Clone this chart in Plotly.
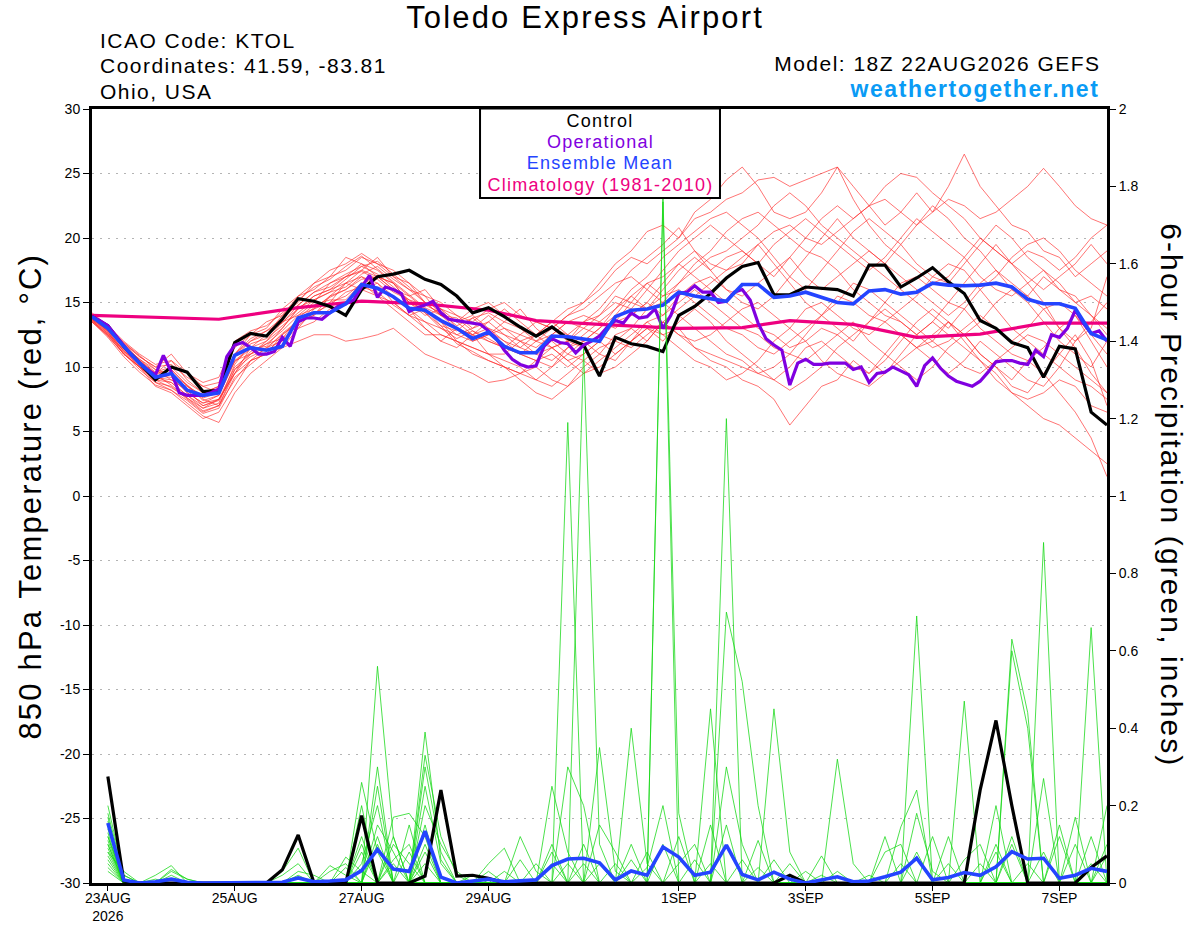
import pandas as pd
import plotly.graph_objects as go

# ---------------- time axes ----------------
times_6h = pd.date_range("2026-08-22 18:00", periods=65, freq="6h")
times_3h = pd.date_range("2026-08-22 18:00", periods=129, freq="3h")
precip_times = times_6h[1:]

tick_dates = ["2026-08-23", "2026-08-25", "2026-08-27", "2026-08-29",
              "2026-09-01", "2026-09-03", "2026-09-05", "2026-09-07"]
tick_labels = ["23AUG<br>2026", "25AUG", "27AUG", "29AUG", "1SEP", "3SEP", "5SEP", "7SEP"]

temp_ticks = [-30, -25, -20, -15, -10, -5, 0, 5, 10, 15, 20, 25, 30]
temp_tick_labels = ["-30", "-25", "-20", "-15", "-10", "-5", "0", "5", "10", "15", "20", "25", "30"]
precip_ticks = [0, 0.2, 0.4, 0.6, 0.8, 1.0, 1.2, 1.4, 1.6, 1.8, 2.0]
precip_tick_labels = ["0", "0.2", "0.4", "0.6", "0.8", "1", "1.2", "1.4", "1.6", "1.8", "2"]

legend_labels = ["Control", "Operational", "Ensemble Mean", "Climatology (1981-2010)"]

# ---------------- 850 hPa temperature (deg C) ----------------
control_temp = [
    13.9, 13.2, 11.6, 10.3, 9.0, 10.0, 9.6, 8.1, 8.2, 11.9, 12.6, 12.4, 13.7,
    15.3, 15.1, 14.7, 14.0, 16.0, 17.0, 17.2, 17.5, 16.8, 16.4, 15.5, 14.2, 14.6,
    13.9, 13.1, 12.4, 13.1, 12.2, 11.7, 9.3, 12.3, 11.8, 11.6, 11.2, 14.0, 14.7,
    15.7, 16.9, 17.8, 18.1, 15.6, 15.6, 16.2, 16.1, 16.0, 15.5, 17.9, 17.9, 16.2,
    16.9, 17.7, 16.6, 15.7, 13.6, 13.0, 11.9, 11.5, 9.2, 11.6, 11.4, 6.5, 5.5]

mean_temp = [
    13.9, 13.0, 11.6, 10.3, 9.2, 9.5, 8.2, 7.8, 8.0, 10.9, 11.5, 11.3, 11.6,
    13.8, 14.2, 14.2, 14.9, 16.4, 16.1, 15.45, 14.55, 14.4, 13.6, 13.0, 12.2, 12.7,
    11.6, 11.1, 11.1, 12.4, 12.35, 12.15, 12.0, 13.9, 14.4, 14.5, 14.8, 15.8, 15.5,
    15.3, 15.1, 16.4, 16.4, 15.4, 15.5, 15.8, 15.4, 15.0, 14.9, 15.9, 16.0, 15.65,
    15.8, 16.5, 16.35, 16.3, 16.35, 16.5, 16.2, 15.25, 14.9, 14.9, 14.55, 12.6, 12.1]

operational_temp = [
    13.9, 13.6, 13.2, 12.4, 11.6, 10.9, 10.3, 9.8, 9.4, 10.9, 9.6, 8.0, 7.8, 7.8, 7.8, 8.0,
    8.3, 10.8, 11.7, 11.9, 11.5, 11.0, 11.0, 11.2, 12.3, 11.6, 13.5, 13.8, 13.8, 13.7, 14.2, 14.7,
    14.9, 15.2, 16.2, 17.1, 15.4, 16.2, 16.0, 15.7, 14.3, 14.6, 14.8, 15.1, 14.2, 13.7, 13.6, 13.5,
    13.4, 13.3, 12.8, 12.2, 11.3, 10.6, 10.2, 10.0, 10.1, 11.6, 12.2, 11.9, 11.8, 11.1, 11.7, 12.0,
    12.4, 13.1, 13.6, 13.4, 14.2, 13.8, 13.9, 14.5, 13.0, 14.0, 15.7, 15.8, 16.3, 15.8, 15.8, 15.0,
    15.1, 15.8, 16.0, 15.2, 13.4, 12.2, 11.7, 11.3, 8.6, 10.3, 10.6, 10.2, 10.2, 10.3, 10.3, 10.3,
    9.8, 10.0, 8.8, 9.5, 9.6, 10.0, 9.7, 9.4, 8.5, 10.1, 10.7, 9.9, 9.3, 8.9, 8.7, 8.5,
    8.9, 9.6, 10.4, 10.5, 10.5, 10.3, 10.2, 11.3, 10.8, 12.5, 12.3, 13.0, 14.4, 13.4, 12.6, 12.8,
    12.0]

climatology_times = ["2026-08-22 18:00", "2026-08-24 18:00", "2026-08-26 00:00", "2026-08-27 00:00",
                     "2026-08-28 00:00", "2026-08-29 00:00", "2026-08-29 18:00", "2026-08-30 18:00",
                     "2026-09-01 00:00", "2026-09-02 00:00", "2026-09-02 18:00", "2026-09-03 18:00",
                     "2026-09-04 18:00", "2026-09-05 18:00", "2026-09-06 18:00", "2026-09-07 18:00"]
climatology_temp = [14.0, 13.7, 14.6, 15.1, 14.9, 14.4, 13.6, 13.3,
                    13.0, 13.05, 13.6, 13.3, 12.3, 12.55, 13.4, 13.4]

member_temps = [
    [13.8, 12.8, 11.5, 10.5, 9.5, 9.8, 8.5, 7.5, 7.0, 9.5, 11.5, 12.0, 13.0,
     14.5, 15.5, 16.0, 16.5, 17.5, 18.5, 17.0, 16.0, 15.5, 14.0, 13.5, 14.5, 15.0,
     14.0, 13.0, 12.5, 13.5, 14.5, 15.0, 16.5, 18.0, 19.0, 20.5, 21.0, 20.0, 22.0,
     23.0, 24.5, 25.5, 24.0, 22.0, 21.5, 22.0, 23.5, 25.5, 24.0, 22.5, 21.0, 22.0,
     23.5, 22.0, 24.0, 26.5, 24.0, 22.5, 21.0, 20.5, 19.0, 18.5, 17.0, 18.0, 19.0],
    [13.5, 12.5, 11.0, 10.0, 8.5, 8.0, 7.0, 6.0, 6.5, 8.5, 10.5, 11.0, 12.5,
     13.5, 14.0, 15.0, 16.5, 16.0, 15.5, 15.0, 14.0, 13.0, 12.0, 11.5, 12.5, 11.0,
     10.0, 9.0, 8.0, 7.5, 8.5, 10.0, 11.0, 10.5, 12.0, 13.5, 12.5, 13.0, 11.5,
     10.5, 10.0, 9.0, 8.5, 7.5, 5.5, 7.0, 8.5, 9.0, 10.5, 9.5, 11.0, 12.5,
     11.5, 12.0, 13.5, 12.5, 11.0, 10.0, 9.0, 10.5, 9.5, 8.0, 6.5, 4.5, 1.5],
    [14.0, 13.0, 11.8, 10.5, 9.5, 10.5, 9.0, 8.0, 8.5, 11.0, 12.0, 12.5, 14.0,
     15.5, 16.5, 17.5, 18.0, 18.8, 18.0, 17.0, 16.5, 15.5, 15.0, 14.0, 13.0, 13.5,
     12.5, 12.0, 11.0, 11.5, 12.0, 13.5, 14.5, 16.0, 17.5, 18.5, 19.5, 20.8, 19.0,
     17.5, 16.0, 15.0, 14.5, 15.5, 17.0, 18.5, 20.0, 21.5, 20.0, 19.0, 18.0, 19.5,
     21.0, 22.5, 21.5, 20.0, 19.0, 17.5, 16.0, 15.5, 17.0, 16.0, 15.0, 15.5, 14.5],
    [13.6, 12.6, 11.2, 10.0, 8.8, 8.5, 7.5, 6.5, 7.0, 9.0, 10.5, 11.5, 12.0,
     13.0, 14.5, 15.0, 15.5, 16.5, 17.0, 16.0, 15.0, 14.5, 13.5, 12.0, 11.0, 10.5,
     10.0, 9.5, 9.0, 10.0, 11.5, 12.0, 11.0, 12.5, 13.0, 12.0, 13.5, 14.5, 15.5,
     16.5, 17.5, 18.0, 19.5, 18.0, 16.5, 15.0, 14.0, 13.0, 12.0, 13.5, 15.0, 16.5,
     17.0, 16.0, 15.0, 14.5, 13.0, 12.0, 11.0, 10.5, 11.5, 13.0, 14.0, 12.0, 10.0],
    [13.9, 13.0, 11.5, 10.2, 9.2, 9.0, 8.2, 7.0, 7.5, 10.0, 11.0, 12.0, 13.5,
     14.0, 15.0, 16.5, 17.0, 17.5, 17.0, 16.5, 15.5, 16.0, 14.5, 13.5, 12.5, 12.0,
     11.5, 11.0, 12.0, 13.0, 12.5, 13.5, 14.0, 15.0, 14.5, 16.0, 15.0, 16.5, 18.0,
     19.0, 20.5, 21.5, 22.0, 21.0, 20.0, 19.0, 18.5, 17.5, 16.0, 15.0, 14.0, 13.5,
     12.5, 13.5, 15.0, 16.5, 18.0, 19.5, 18.0, 16.5, 15.0, 13.0, 11.5, 9.5, 8.0],
    [13.7, 12.7, 11.0, 10.0, 9.0, 8.8, 7.8, 6.8, 7.5, 9.5, 10.5, 11.0, 11.5,
     12.0, 12.5, 12.5, 12.0, 12.2, 12.5, 13.0, 12.0, 11.0, 10.5, 10.0, 9.5, 8.8,
     9.0, 9.5, 10.0, 9.0, 8.5, 9.5, 10.5, 11.5, 12.5, 13.5, 14.0, 15.0, 16.0,
     15.0, 14.0, 13.0, 12.5, 11.5, 11.0, 10.5, 11.5, 12.5, 13.5, 12.0, 11.0, 10.0,
     9.0, 10.0, 11.5, 12.5, 11.0, 10.0, 8.5, 8.0, 9.5, 11.0, 12.5, 10.5, 7.0],
    [13.8, 12.9, 11.6, 10.6, 9.8, 9.0, 8.5, 7.8, 8.0, 10.5, 11.5, 12.5, 13.5,
     14.5, 15.5, 16.0, 17.0, 18.0, 17.5, 16.5, 15.0, 14.0, 14.5, 13.0, 12.0, 12.5,
     13.5, 14.5, 13.0, 12.0, 11.0, 12.0, 13.0, 14.5, 16.0, 17.0, 18.5, 19.5, 20.5,
     21.5, 22.0, 21.0, 20.0, 18.5, 17.0, 16.0, 17.5, 19.0, 20.5, 21.5, 20.5, 19.5,
     18.0, 17.0, 16.5, 18.0, 19.5, 21.0, 20.0, 18.5, 17.5, 16.0, 15.5, 14.0, 12.5],
    [13.5, 12.3, 10.8, 9.6, 8.6, 8.2, 7.2, 6.2, 5.7, 8.0, 9.5, 10.5, 11.5,
     13.0, 13.5, 14.5, 15.0, 16.0, 16.5, 15.5, 14.5, 13.5, 12.5, 12.0, 11.5, 11.0,
     11.0, 12.0, 12.5, 11.5, 10.5, 9.5, 10.0, 11.0, 12.0, 13.0, 12.5, 11.5, 10.5,
     10.0, 9.0, 9.5, 10.5, 12.0, 13.0, 14.5, 15.0, 14.0, 13.0, 12.5, 13.5, 14.5,
     15.5, 17.0, 18.0, 17.5, 16.0, 14.5, 13.0, 12.0, 11.0, 10.0, 9.0, 8.5, 7.5],
    [14.1, 13.1, 11.9, 10.8, 10.0, 10.2, 9.2, 8.5, 8.8, 11.5, 12.5, 13.0, 14.5,
     15.5, 16.0, 17.0, 18.5, 18.0, 17.0, 16.0, 15.5, 14.5, 13.5, 12.5, 13.0, 14.0,
     13.0, 12.0, 11.5, 12.5, 13.5, 14.0, 13.5, 14.5, 15.5, 16.5, 17.0, 18.0, 19.0,
     18.0, 17.5, 18.5, 19.5, 20.5, 21.0, 20.0, 19.5, 20.5, 21.5, 22.5, 23.0, 22.0,
     21.0, 22.0, 23.0, 22.5, 21.5, 22.0, 23.0, 24.0, 25.4, 24.0, 22.5, 21.5, 21.0],
    [13.6, 12.5, 11.3, 10.0, 9.0, 9.5, 8.0, 7.2, 7.8, 10.5, 11.0, 11.5, 12.5,
     13.5, 14.0, 15.5, 16.0, 17.0, 16.0, 15.5, 14.5, 13.0, 12.0, 13.0, 12.5, 13.0,
     12.0, 11.5, 11.0, 10.5, 11.5, 12.5, 13.5, 13.0, 14.0, 15.0, 16.5, 18.0, 17.0,
     16.0, 15.0, 14.0, 13.0, 12.5, 11.5, 12.0, 13.0, 12.5, 11.5, 10.5, 9.5, 10.5,
     11.5, 12.5, 13.5, 12.0, 10.5, 9.0, 8.0, 7.5, 8.0, 9.0, 8.5, 7.0, 6.5],
    [13.9, 12.9, 11.7, 10.6, 9.6, 10.0, 8.8, 8.0, 8.5, 11.0, 12.5, 13.5, 14.0,
     15.0, 16.5, 17.0, 17.5, 18.5, 18.0, 17.5, 16.5, 15.0, 14.5, 14.0, 13.5, 14.5,
     15.0, 14.0, 13.5, 13.0, 14.0, 15.0, 16.0, 17.5, 18.5, 18.0, 19.0, 20.0, 21.5,
     22.0, 23.0, 23.5, 24.5, 24.7, 24.0, 24.5, 25.0, 25.5, 23.0, 21.0, 19.5, 18.5,
     17.5, 16.5, 17.0, 18.5, 20.0, 19.0, 18.0, 19.0, 18.5, 17.5, 18.5, 20.0, 21.0],
    [13.7, 12.6, 11.4, 10.3, 9.3, 9.2, 8.0, 7.2, 7.5, 9.5, 11.0, 11.8, 12.8,
     14.0, 14.5, 15.5, 16.5, 17.0, 16.5, 15.0, 14.0, 13.5, 13.0, 12.5, 12.0, 12.5,
     13.0, 12.5, 12.0, 12.5, 13.5, 13.0, 12.5, 12.0, 13.0, 14.5, 15.0, 14.0, 13.0,
     12.0, 11.0, 10.5, 9.5, 9.0, 10.0, 11.5, 12.0, 11.0, 10.0, 9.5, 10.5, 12.0,
     13.5, 14.5, 13.5, 12.5, 13.5, 15.0, 16.0, 15.0, 13.5, 12.0, 11.0, 10.0, 12.0],
    [13.8, 12.8, 11.2, 10.4, 9.4, 8.6, 7.6, 6.8, 7.2, 10.2, 11.8, 12.2, 13.2,
     14.2, 15.2, 15.8, 16.8, 17.8, 17.2, 16.2, 15.2, 14.2, 13.2, 12.8, 13.8, 12.8,
     12.0, 11.0, 10.5, 11.5, 10.5, 11.0, 12.0, 13.5, 15.0, 16.5, 15.5, 16.5, 17.5,
     18.5, 19.0, 20.0, 21.0, 22.5, 23.5, 22.5, 21.0, 20.0, 19.0, 18.0, 17.0, 16.0,
     15.0, 14.0, 13.0, 14.5, 16.0, 17.0, 18.5, 19.5, 20.0, 19.0, 17.5, 16.5, 15.5],
    [13.9, 12.7, 11.3, 10.2, 9.0, 8.4, 7.6, 6.6, 7.0, 9.8, 11.2, 11.8, 12.2,
     13.2, 14.2, 14.8, 15.8, 16.2, 15.8, 14.8, 14.0, 14.5, 13.2, 11.8, 11.2, 10.5,
     10.0, 9.5, 10.5, 11.0, 10.0, 11.0, 12.0, 11.0, 12.0, 13.0, 12.0, 13.5, 14.5,
     13.5, 12.0, 11.0, 10.0, 9.0, 8.2, 9.0, 10.0, 11.5, 12.5, 13.5, 14.5, 13.5,
     12.5, 11.5, 12.0, 13.0, 14.0, 13.0, 12.0, 13.0, 14.5, 15.0, 14.0, 12.5, 11.0],
    [14.2, 13.2, 12.0, 11.0, 10.2, 10.5, 9.5, 8.8, 9.2, 12.0, 12.8, 13.2, 14.2,
     15.2, 16.2, 16.8, 17.8, 18.6, 17.6, 16.6, 15.6, 14.6, 14.0, 13.0, 12.5, 13.5,
     14.5, 13.5, 12.5, 13.0, 14.0, 14.5, 15.5, 16.5, 17.0, 16.0, 17.5, 19.0, 20.0,
     21.0, 20.0, 19.0, 18.0, 17.0, 18.5, 20.0, 21.5, 22.5, 21.5, 22.5, 24.0, 25.0,
     24.7, 23.5, 22.5, 21.5, 20.0, 19.0, 18.0, 17.0, 16.0, 17.0, 18.0, 19.5, 18.0],
    [13.6, 12.4, 11.1, 9.8, 8.8, 8.2, 7.4, 6.4, 6.8, 9.2, 10.2, 11.2, 12.2,
     13.8, 14.8, 15.2, 15.2, 16.5, 15.5, 14.5, 13.5, 12.5, 12.5, 12.0, 11.5, 11.0,
     10.5, 10.0, 9.0, 8.5, 9.5, 10.5, 11.5, 12.0, 11.5, 12.5, 13.5, 12.5, 11.5,
     11.0, 10.5, 10.0, 9.5, 10.0, 11.0, 12.5, 14.0, 15.5, 15.0, 14.0, 13.5, 12.5,
     11.5, 10.5, 9.5, 10.5, 12.0, 11.0, 10.0, 9.0, 8.5, 10.0, 12.0, 13.5, 15.0],
    [13.8, 13.0, 11.8, 10.8, 10.0, 11.0, 9.5, 8.5, 8.0, 10.8, 12.0, 12.8, 13.8,
     14.8, 15.8, 16.5, 17.2, 17.8, 18.2, 17.2, 16.2, 15.0, 14.0, 13.5, 14.0, 13.0,
     12.5, 11.5, 12.5, 13.5, 12.5, 12.0, 13.0, 14.0, 15.5, 14.5, 16.0, 17.5, 18.5,
     17.5, 18.5, 19.0, 18.0, 19.5, 20.5, 21.5, 20.5, 19.5, 18.5, 17.5, 18.5, 20.0,
     21.5, 20.5, 19.5, 18.5, 17.0, 16.0, 15.5, 16.5, 17.5, 16.5, 15.0, 14.0, 13.0],
    [13.7, 12.8, 11.5, 10.4, 9.4, 9.8, 8.6, 7.4, 7.8, 10.4, 11.4, 11.6, 13.0,
     14.6, 15.2, 15.8, 16.2, 17.2, 17.8, 16.8, 16.0, 15.0, 14.0, 13.8, 12.8, 12.2,
     11.5, 11.0, 10.5, 10.0, 11.0, 10.5, 9.5, 10.0, 11.0, 12.0, 13.5, 12.5, 12.0,
     12.5, 13.5, 14.5, 15.0, 14.0, 13.0, 12.0, 10.5, 9.5, 9.0, 8.5, 9.5, 11.0,
     12.5, 13.5, 12.5, 11.5, 10.5, 9.5, 8.0, 7.0, 6.0, 5.5, 4.5, 3.5, 2.5],
    [13.5, 12.4, 11.0, 10.0, 9.2, 8.8, 7.8, 7.0, 7.4, 9.8, 10.8, 11.4, 12.6,
     13.6, 14.6, 15.4, 16.0, 16.8, 17.0, 16.5, 15.0, 14.2, 13.0, 12.2, 12.8, 12.0,
     11.5, 12.5, 13.5, 13.0, 12.0, 11.5, 12.5, 13.5, 14.0, 15.0, 14.0, 15.5, 16.5,
     17.0, 16.0, 15.5, 16.5, 17.5, 18.5, 17.0, 16.0, 17.0, 18.0, 19.0, 18.0, 17.0,
     16.0, 15.0, 14.0, 15.0, 16.5, 17.5, 16.5, 15.5, 14.5, 13.0, 12.0, 13.0, 17.0],
    [14.0, 13.1, 11.9, 10.9, 9.8, 9.4, 8.6, 7.6, 8.0, 11.0, 12.2, 12.8, 13.4,
     14.8, 15.8, 16.2, 17.0, 17.4, 16.8, 15.8, 15.2, 14.8, 14.2, 13.2, 13.8, 14.2,
     13.5, 13.0, 12.0, 11.5, 12.0, 13.0, 14.0, 15.5, 15.0, 14.5, 15.5, 16.0, 15.0,
     14.0, 13.0, 12.5, 11.5, 11.0, 12.0, 13.0, 14.0, 15.0, 16.5, 16.0, 15.0, 14.0,
     13.0, 12.0, 11.0, 10.0, 9.5, 10.5, 11.5, 12.5, 12.0, 11.0, 10.0, 9.0, 8.0],
]

# ---------------- 6-hour precipitation (inches), 23AUG 00Z .. 7SEP 18Z ----------------
control_precip = [
    0.275, 0.005, 0, 0, 0, 0, 0, 0, 0, 0, 0, 0.034, 0.124, 0, 0, 0,
    0.174, 0, 0, 0, 0.018, 0.24, 0.018, 0.02, 0.012, 0, 0, 0, 0, 0, 0, 0,
    0, 0, 0, 0, 0, 0, 0, 0, 0, 0, 0, 0.02, 0, 0, 0, 0,
    0, 0, 0, 0, 0, 0, 0, 0.24, 0.42, 0.2, 0, 0, 0, 0, 0.04, 0.07]

mean_precip = [
    0.155, 0.008, 0, 0.003, 0.01, 0.002, 0, 0, 0.002, 0, 0, 0.002, 0.013, 0.003, 0.005, 0.008,
    0.032, 0.087, 0.036, 0.03, 0.134, 0.015, 0.0, 0.005, 0.01, 0.003, 0.005, 0.008, 0.045, 0.062, 0.064, 0.052,
    0.008, 0.031, 0.02, 0.093, 0.067, 0.02, 0.028, 0.098, 0.022, 0.008, 0.028, 0.01, 0.0, 0.008, 0.016, 0.003,
    0.005, 0.016, 0.028, 0.064, 0.008, 0.014, 0.027, 0.02, 0.042, 0.081, 0.062, 0.064, 0.012, 0.02, 0.038, 0.03]

member_precips = [
    [0.18, 0.02, 0, 0, 0, 0, 0, 0, 0, 0, 0, 0, 0, 0, 0, 0,
     0.26, 0.08, 0, 0, 0.05, 0, 0, 0.02, 0, 0, 0, 0, 0, 1.19, 0, 0,
     0, 0, 0, 0, 0, 0, 0.05, 0, 0, 0.04, 0, 0, 0, 0, 0, 0,
     0.02, 0, 0, 0, 0, 0, 0, 0, 0, 0.1, 0, 0, 0, 0, 0, 0],
    [0.15, 0, 0, 0.02, 0.045, 0, 0, 0, 0, 0, 0, 0, 0, 0, 0, 0,
     0, 0.56, 0.12, 0, 0, 0, 0, 0, 0, 0, 0, 0.05, 0, 0, 0, 0,
     0, 0.06, 0, 0, 0.05, 0.1, 0, 0, 0, 0, 0, 0, 0, 0, 0.03, 0,
     0, 0, 0, 0, 0.12, 0, 0, 0, 0, 0, 0, 0, 0, 0, 0, 0],
    [0.12, 0.01, 0, 0, 0, 0, 0, 0, 0, 0, 0, 0.03, 0.09, 0, 0, 0,
     0, 0, 0.17, 0.18, 0.12, 0, 0, 0, 0, 0, 0, 0, 0, 0, 1.38, 0.1,
     0, 0, 0, 0, 0, 0, 0, 0.15, 0, 0, 0, 0, 0, 0, 0, 0,
     0, 0.12, 0, 0, 0, 0, 0, 0, 0, 0, 0.05, 0, 0, 0, 0, 0],
    [0.1, 0, 0, 0, 0.03, 0.01, 0, 0, 0, 0, 0, 0, 0, 0, 0, 0,
     0.1, 0, 0, 0, 0.39, 0.06, 0, 0, 0, 0, 0, 0, 0, 0, 0, 0.35,
     0.03, 0, 0, 0, 0, 0, 0, 0, 0, 0, 0.06, 0, 0, 0, 0, 0,
     0, 0, 0, 0, 0, 0, 0, 0, 0.08, 0, 0, 0, 0, 0, 0, 0.2],
    [0.08, 0.03, 0, 0, 0, 0, 0, 0, 0, 0, 0, 0, 0, 0, 0.045, 0.02,
     0, 0, 0.06, 0.1, 0, 0, 0, 0, 0.05, 0.09, 0, 0, 0, 0, 0, 0,
     0, 0, 0, 0.1, 0, 0, 0, 0, 0, 0.11, 0, 0, 0, 0, 0, 0,
     0, 0, 0.145, 0.24, 0, 0, 0, 0, 0, 0, 0, 0, 0, 0, 0, 0],
    [0.06, 0, 0, 0, 0, 0, 0, 0, 0, 0, 0, 0.02, 0.05, 0, 0, 0,
     0, 0.1, 0, 0, 0.3, 0.08, 0, 0, 0, 0, 0, 0, 0, 0.05, 0, 0,
     0, 0.4, 0.05, 0, 0, 0, 0, 0, 0, 0, 0, 0.05, 0, 0, 0, 0,
     0, 0, 0, 0, 0, 0.12, 0, 0, 0, 0, 0, 0, 0, 0, 0.12, 0],
    [0.05, 0, 0, 0.01, 0, 0, 0, 0, 0, 0, 0, 0, 0, 0, 0, 0,
     0.2, 0, 0.05, 0, 0, 0, 0, 0, 0, 0, 0.12, 0.03, 0, 0, 0, 0,
     0, 0, 0, 1.78, 0.18, 0, 0, 0, 0, 0, 0, 0, 0, 0, 0, 0,
     0, 0, 0.05, 0, 0, 0, 0, 0, 0, 0.12, 0, 0, 0, 0, 0, 0],
    [0.04, 0, 0, 0, 0.02, 0, 0, 0, 0, 0, 0, 0, 0, 0, 0, 0,
     0, 0.3, 0, 0, 0, 0, 0, 0, 0, 0, 0, 0, 0.1, 0, 0.1, 0,
     0, 0, 0, 0, 0, 0, 0.45, 0, 0, 0, 0, 0, 0, 0, 0, 0,
     0, 0, 0, 0, 0, 0, 0.47, 0, 0, 0, 0, 0.27, 0, 0, 0, 0],
    [0.14, 0.01, 0, 0, 0, 0, 0, 0, 0, 0, 0, 0, 0, 0, 0, 0.067,
     0.03, 0, 0, 0, 0.33, 0.12, 0.02, 0, 0, 0, 0, 0, 0, 0, 0, 0,
     0, 0, 0.08, 0, 0, 0, 0, 1.2, 0, 0, 0, 0, 0, 0, 0, 0,
     0, 0, 0, 0, 0, 0, 0, 0, 0, 0, 0, 0, 0.12, 0, 0.05, 0],
    [0.16, 0, 0, 0, 0, 0, 0, 0, 0, 0, 0, 0, 0.03, 0.02, 0, 0,
     0, 0, 0.12, 0, 0, 0, 0, 0, 0, 0, 0, 0, 0.25, 0.08, 0, 0,
     0, 0, 0, 0, 0, 0, 0, 0, 0.06, 0, 0, 0, 0, 0, 0, 0,
     0, 0, 0, 0.69, 0, 0, 0, 0, 0, 0, 0, 0, 0, 0, 0, 0],
    [0.13, 0, 0, 0, 0.035, 0.01, 0, 0, 0, 0, 0, 0, 0, 0, 0, 0,
     0, 0.25, 0, 0, 0.08, 0, 0, 0, 0.03, 0, 0, 0, 0, 0, 0, 0.15,
     0.08, 0, 0, 0, 0, 0, 0, 0, 0, 0, 0.45, 0.08, 0, 0, 0, 0,
     0, 0, 0, 0, 0, 0, 0, 0, 0, 0, 0, 0.08, 0, 0, 0, 0],
    [0.11, 0, 0, 0, 0, 0, 0, 0, 0, 0, 0, 0, 0.02, 0, 0, 0,
     0.12, 0, 0, 0, 0.15, 0, 0, 0, 0, 0, 0, 0, 0.08, 0, 0.05, 0,
     0, 0, 0, 0, 0, 0, 0, 0.7, 0.52, 0.2, 0, 0, 0, 0, 0, 0,
     0, 0, 0, 0, 0, 0, 0, 0.05, 0, 0, 0, 0, 0, 0, 0, 0.07],
    [0.09, 0, 0, 0, 0, 0, 0, 0, 0, 0, 0, 0, 0, 0, 0.03, 0.05,
     0, 0, 0, 0.15, 0, 0, 0, 0, 0, 0, 0.06, 0, 0, 0, 0, 0,
     0, 0, 0, 1.76, 0, 0, 0, 0, 0, 0, 0, 0, 0, 0, 0, 0,
     0, 0, 0, 0.18, 0.03, 0, 0, 0, 0, 0, 0, 0, 0, 0.17, 0, 0],
    [0.07, 0, 0, 0, 0.01, 0, 0, 0, 0, 0, 0, 0, 0, 0, 0, 0,
     0, 0.15, 0.08, 0, 0, 0, 0, 0, 0, 0.03, 0, 0, 0, 0, 0, 0,
     0, 0, 0, 0, 0, 0.06, 0, 0, 0, 0, 0, 0, 0, 0, 0, 0,
     0, 0.08, 0.1, 0, 0, 0, 0, 0, 0, 0.63, 0.44, 0, 0, 0, 0, 0],
    [0.2, 0.02, 0, 0, 0, 0, 0, 0, 0, 0, 0, 0, 0, 0, 0, 0,
     0, 0, 0.1, 0.05, 0, 0, 0, 0, 0, 0, 0, 0, 0, 0.3, 0.2, 0,
     0, 0, 0, 0, 0, 0, 0, 0, 0, 0, 0, 0, 0.03, 0, 0, 0,
     0, 0, 0, 0, 0, 0.05, 0, 0, 0, 0, 0, 0, 0.15, 0, 0.66, 0],
    [0.12, 0, 0, 0, 0, 0, 0, 0, 0, 0, 0, 0, 0, 0, 0, 0,
     0.08, 0, 0, 0, 0.25, 0.05, 0, 0, 0, 0, 0, 0, 0, 0, 0, 0,
     0, 0, 0.04, 0.2, 0, 0, 0, 0, 0, 0, 0, 0, 0, 0.07, 0, 0,
     0, 0, 0, 0, 0, 0, 0, 0, 0.2, 0, 0, 0, 0, 0, 0, 0],
    [0.17, 0, 0, 0, 0, 0, 0, 0, 0, 0, 0, 0, 0, 0, 0, 0.04,
     0, 0, 0, 0.08, 0, 0, 0, 0, 0, 0, 0, 0, 0, 0, 0, 0,
     0.05, 0, 0, 0, 0, 0, 0, 0.3, 0.1, 0, 0, 0, 0, 0, 0, 0,
     0, 0, 0, 0, 0, 0, 0.06, 0.1, 0, 0, 0, 0, 0, 0, 0, 0.1],
    [0.03, 0, 0, 0, 0, 0, 0, 0, 0, 0, 0, 0, 0, 0, 0, 0,
     0, 0, 0, 0, 0.2, 0.1, 0.03, 0, 0, 0, 0, 0, 0, 0, 0, 0,
     0, 0.1, 0, 0, 0, 0, 0, 0, 0, 0, 0, 0, 0, 0, 0, 0,
     0, 0, 0, 0.08, 0, 0, 0, 0, 0, 0.6, 0.4, 0, 0, 0, 0, 0],
    [0.1, 0, 0, 0, 0, 0, 0, 0, 0, 0, 0, 0, 0, 0, 0, 0,
     0.05, 0.2, 0, 0, 0, 0, 0, 0, 0, 0, 0, 0, 0, 0, 0, 0.05,
     0, 0, 0, 0, 0, 0, 0.15, 0, 0, 0, 0, 0, 0, 0, 0.32, 0.05,
     0, 0, 0, 0, 0, 0, 0, 0, 0, 0, 0, 0, 0, 0.1, 0, 0],
    [0.08, 0, 0, 0, 0, 0, 0, 0, 0, 0, 0, 0, 0, 0, 0, 0,
     0, 0.12, 0, 0, 0.1, 0, 0, 0, 0, 0, 0, 0, 0.05, 0, 0, 0,
     0, 0, 0, 0, 0.12, 0, 0, 0, 0, 0, 0, 0, 0, 0.02, 0, 0,
     0, 0, 0, 0, 0, 0, 0, 0, 0.1, 0, 0, 0.88, 0, 0, 0, 0],
]

assert len(control_temp) == 65 and len(mean_temp) == 65
assert len(operational_temp) == 129
assert all(len(m) == 65 for m in member_temps), [len(m) for m in member_temps]
assert len(control_precip) == 64 and len(mean_precip) == 64
assert all(len(m) == 64 for m in member_precips), [len(m) for m in member_precips]
assert len(climatology_times) == len(climatology_temp)

# ---------------- figure ----------------
FONT = "Liberation Sans, Arial, Helvetica, sans-serif"
RED = "rgba(255,40,40,0.72)"
GREEN = "rgba(20,215,20,0.85)"
BLACK = "#000000"
PURPLE = "#8000E0"
BLUE = "#2444FF"
PINK = "#EE0080"
SITE_BLUE = "#0A9BF5"
legend_colors = [BLACK, PURPLE, BLUE, PINK]

fig = go.Figure()

for m in member_temps:
    fig.add_trace(go.Scatter(x=times_6h, y=m, mode="lines",
                             line=dict(color=RED, width=0.9), hoverinfo="skip"))

fig.add_trace(go.Scatter(x=climatology_times, y=climatology_temp, mode="lines",
                         line=dict(color=PINK, width=3.2)))
fig.add_trace(go.Scatter(x=times_6h, y=control_temp, mode="lines",
                         line=dict(color=BLACK, width=3.2)))
fig.add_trace(go.Scatter(x=times_3h, y=operational_temp, mode="lines",
                         line=dict(color=PURPLE, width=3.2)))
fig.add_trace(go.Scatter(x=times_6h, y=mean_temp, mode="lines",
                         line=dict(color=BLUE, width=3.6)))

for m in member_precips:
    fig.add_trace(go.Scatter(x=precip_times, y=m, mode="lines", yaxis="y2",
                             line=dict(color=GREEN, width=0.9), hoverinfo="skip"))
fig.add_trace(go.Scatter(x=precip_times, y=control_precip, mode="lines", yaxis="y2",
                         line=dict(color=BLACK, width=3.2)))
fig.add_trace(go.Scatter(x=precip_times, y=mean_precip, mode="lines", yaxis="y2",
                         line=dict(color=BLUE, width=3.6)))

fig.update_layout(
    width=1200, height=927,
    margin=dict(l=92, r=93, t=109, b=44, autoexpand=False),
    paper_bgcolor="white", plot_bgcolor="white",
    showlegend=False,
    font=dict(family=FONT, color="black", size=14),
    xaxis=dict(
        type="date", automargin=False,
        range=[times_6h[0], times_6h[-1]],
        tickmode="array", tickvals=tick_dates, ticktext=tick_labels,
        ticks="outside", ticklen=5, tickwidth=1, tickcolor="black",
        ticklabelstandoff=-5,
        showline=True, linewidth=3, linecolor="black", mirror=True,
        showgrid=False, zeroline=False,
        tickfont=dict(size=14, family=FONT),
    ),
    yaxis=dict(
        range=[-30, 30], automargin=False,
        tickmode="array", tickvals=temp_ticks, ticktext=temp_tick_labels,
        ticks="outside", ticklen=6, tickwidth=1, tickcolor="black",
        showline=True, linewidth=3, linecolor="black",
        showgrid=True, gridcolor="#b4b4b4", gridwidth=1, griddash="2px,6px",
        zeroline=False,
        tickfont=dict(size=14, family=FONT),
    ),
    yaxis2=dict(
        range=[0, 2], overlaying="y", side="right", automargin=False,
        tickmode="array", tickvals=precip_ticks, ticktext=precip_tick_labels,
        ticks="outside", ticklen=6, tickwidth=1, tickcolor="black",
        showline=True, linewidth=3, linecolor="black",
        showgrid=False, zeroline=False,
        tickfont=dict(size=14, family=FONT),
    ),
)

# legend box (paper coordinates of the plot area)
fig.add_shape(type="rect", xref="paper", yref="paper",
              x0=0.3823, x1=0.6187, y0=0.885, y1=1.0005,
              fillcolor="white", line=dict(color="black", width=2), layer="above")

annotations = [
    dict(text="Toledo Express Airport", x=0.486, y=1.1176, xanchor="center", yanchor="middle",
         align="center", font=dict(size=31)),
    dict(text="ICAO Code: KTOL", x=0.006, y=1.089, xanchor="left", yanchor="middle",
         align="left", font=dict(size=21)),
    dict(text="Coordinates: 41.59, -83.81", x=0.006, y=1.0556, xanchor="left", yanchor="middle",
         align="left", font=dict(size=21)),
    dict(text="Ohio, USA", x=0.006, y=1.022, xanchor="left", yanchor="middle",
         align="left", font=dict(size=21)),
    dict(text="Model: 18Z 22AUG2026 GEFS", x=0.995, y=1.0594, xanchor="right", yanchor="middle",
         align="right", font=dict(size=21)),
    dict(text="<b>weathertogether.net</b>", x=0.995, y=1.0258, xanchor="right", yanchor="middle",
         align="right", font=dict(size=23, color=SITE_BLUE)),
    dict(text="850 hPa Temperature (red, °C)", x=-0.061, y=0.5, xanchor="center", yanchor="middle",
         align="center", textangle=-90, font=dict(size=31)),
    dict(text="6-hour Precipitation (green, inches)", x=1.064, y=0.5, xanchor="center",
         yanchor="middle", align="center", textangle=90, font=dict(size=30)),
]
legend_y = [0.9845, 0.958, 0.9302, 0.9018]
for label, color, yy in zip(legend_labels, legend_colors, legend_y):
    annotations.append(dict(text=label, x=0.5005, y=yy, xanchor="center", yanchor="middle",
                            align="center", font=dict(size=18, color=color)))
for a in annotations:
    a.update(xref="paper", yref="paper", showarrow=False)
fig.update_layout(annotations=annotations)

post = ("var s=document.createElement('style');"
        "s.innerHTML='.annotation-text{letter-spacing:0.07em;}';"
        "document.head.appendChild(s);document.body.style.margin='0';")
fig.write_html("out.html", config={"displayModeBar": False}, post_script=post)
